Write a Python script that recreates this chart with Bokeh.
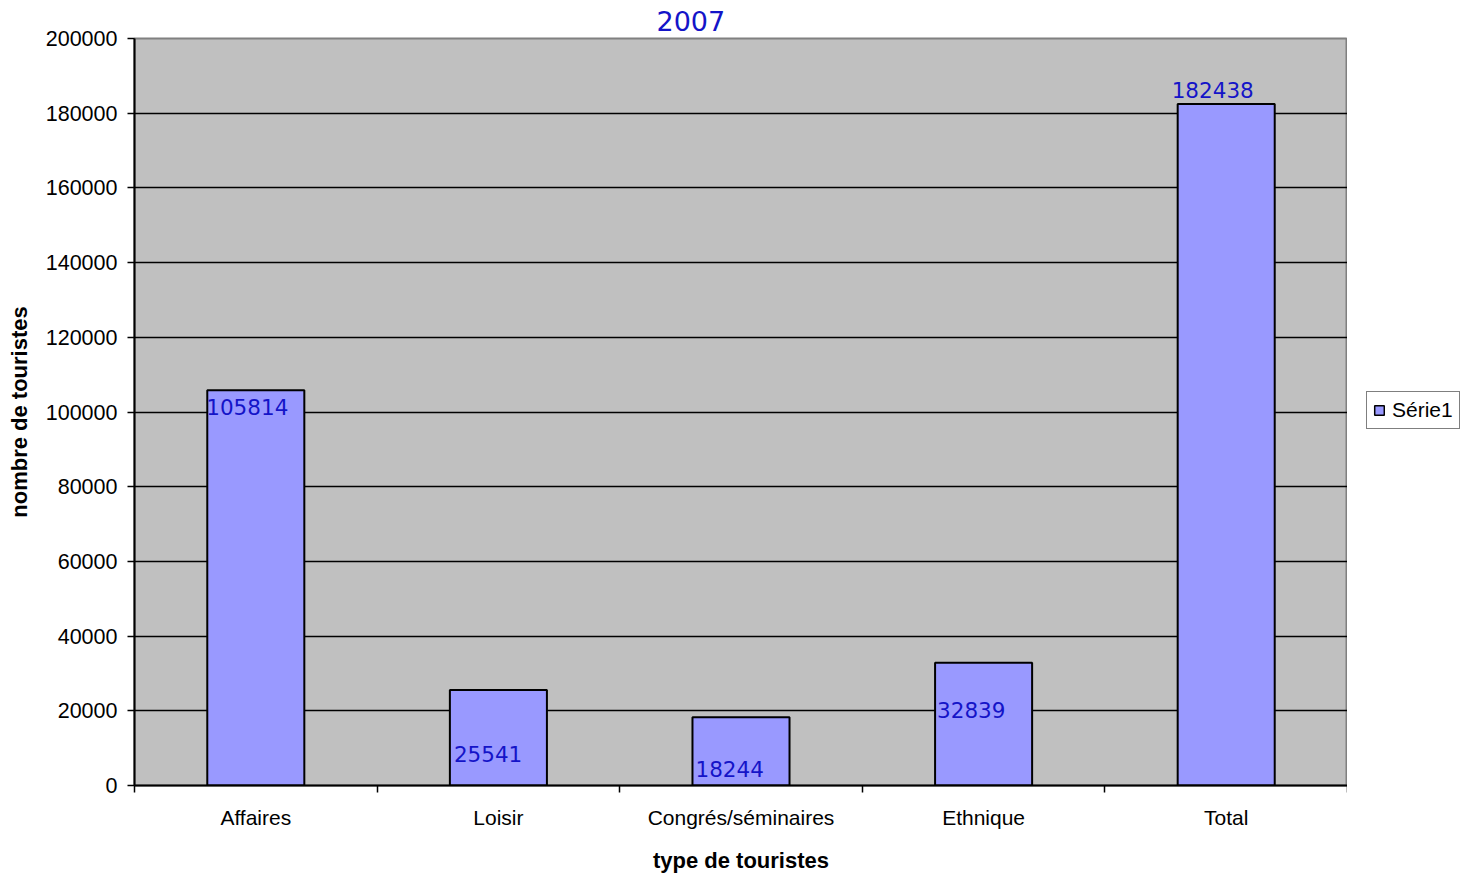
from bokeh.plotting import figure
from bokeh.layouts import row
from bokeh.models import ColumnDataSource, FixedTicker, Legend, LegendItem, Title, LabelSet
from bokeh.core.properties import value
from bokeh.embed import file_html
from bokeh.resources import INLINE

# ---- data ----
categories = ["Affaires", "Loisir", "Congrés/séminaires", "Ethnique", "Total"]
values = [105814, 25541, 18244, 32839, 182438]
y_ticks = [0, 20000, 40000, 60000, 80000, 100000, 120000, 140000, 160000, 180000, 200000]
series_name = "Série1"

# ---- style (label pixel offsets from bar's top-left corner) ----
label_dx = [-1, 4, 3, 2, -6]
label_dy = [-17, -64, -52, -47, 14]

BAR_FILL = "#9999FF"
LABEL_COLOR = "#1414C8"

xs = [i + 0.5 for i in range(len(categories))]
bar_w = 0.4
src = ColumnDataSource(dict(
    x=xs, top=values,
    lx=[x - bar_w / 2 for x in xs],
    lbl=[str(v) for v in values],
    dx=label_dx, dy=label_dy,
))

H = 875
p = figure(width=1347, height=H, x_range=(0, len(categories)), y_range=(0, 200000),
           output_backend="svg", toolbar_location=None,
           min_border_left=134, min_border_right=0,
           min_border_top=38, min_border_bottom=89)
p.background_fill_color = "#C0C0C0"
p.border_fill_color = "white"
p.outline_line_color = "#808080"
p.outline_line_width = 2

r = p.vbar(x="x", top="top", width=bar_w, source=src, fill_color=BAR_FILL,
           line_color="black", line_width=2)

labels = LabelSet(x="lx", y="top", text="lbl", x_offset="dx", y_offset="dy", source=src,
                  text_font=value("DejaVu Sans"), text_font_size="21.5px",
                  text_color=LABEL_COLOR, text_baseline="middle", text_align="left")
p.add_layout(labels)

# axes
p.xgrid.visible = False
p.ygrid.grid_line_color = "black"
p.ygrid.grid_line_width = 1.5
p.ygrid.ticker = FixedTicker(ticks=y_ticks)

yax = p.yaxis[0]
yax.ticker = FixedTicker(ticks=y_ticks)
yax.formatter.use_scientific = False
yax.axis_line_color = "black"
yax.axis_line_width = 2
yax.major_tick_in = 0
yax.major_tick_out = 7
yax.major_tick_line_width = 1.5
yax.minor_tick_line_color = None
yax.major_label_text_font = "Liberation Sans"
yax.major_label_text_font_size = "21.5px"
yax.major_label_text_color = "black"
yax.major_label_standoff = 10
yax.axis_label = "nombre de touristes"
yax.axis_label_text_font = "Liberation Sans"
yax.axis_label_text_font_style = "bold"
yax.axis_label_text_font_size = "22px"
yax.axis_label_text_color = "black"
yax.axis_label_standoff = 11

xax = p.xaxis[0]
xax.ticker = FixedTicker(ticks=xs, minor_ticks=list(range(len(categories) + 1)))
xax.major_label_overrides = {x: c for x, c in zip(xs, categories)}
xax.axis_line_color = "black"
xax.axis_line_width = 2
xax.major_tick_in = 0
xax.major_tick_out = 0
xax.minor_tick_in = 0
xax.minor_tick_out = 7
xax.minor_tick_line_width = 1.5
xax.minor_tick_line_color = "black"
xax.major_label_text_font = "Liberation Sans"
xax.major_label_text_font_size = "21px"
xax.major_label_text_color = "black"
xax.major_label_standoff = 13
xax.axis_label = "type de touristes"
xax.axis_label_text_font = "Liberation Sans"
xax.axis_label_text_font_style = "bold"
xax.axis_label_text_font_size = "22px"
xax.axis_label_text_color = "black"
xax.axis_label_standoff = 16

# title
p.title = Title(text="2007", text_font="DejaVu Sans", text_font_size="27px",
                text_color=LABEL_COLOR, text_font_style="normal", align="left", offset=522,
                standoff=16)

# legend panel (separate narrow figure on the right)
q = figure(width=115, height=H, x_range=(0, 1), y_range=(0, 1),
           output_backend="svg", toolbar_location=None,
           min_border_left=0, min_border_right=0, min_border_top=0, min_border_bottom=0)
q.axis.visible = False
q.grid.visible = False
q.outline_line_color = None
q.background_fill_color = "white"
q.border_fill_color = "white"
lr = q.vbar(x="x", top="top", width=bar_w, source=src, fill_color=BAR_FILL,
            line_color="black", line_width=1.5, visible=False)
legend = Legend(items=[LegendItem(label=series_name, renderers=[lr])],
                location=(19, 356), border_line_color="black", border_line_width=1.5,
                background_fill_color="white", background_fill_alpha=1,
                label_text_font="Liberation Sans", label_text_font_size="21px",
                label_text_color="black",
                glyph_width=12, glyph_height=12, padding=6, spacing=0,
                label_standoff=7, margin=0)
q.add_layout(legend)

layout = row(p, q, spacing=0)
open("out.html", "w").write(file_html(layout, INLINE))
